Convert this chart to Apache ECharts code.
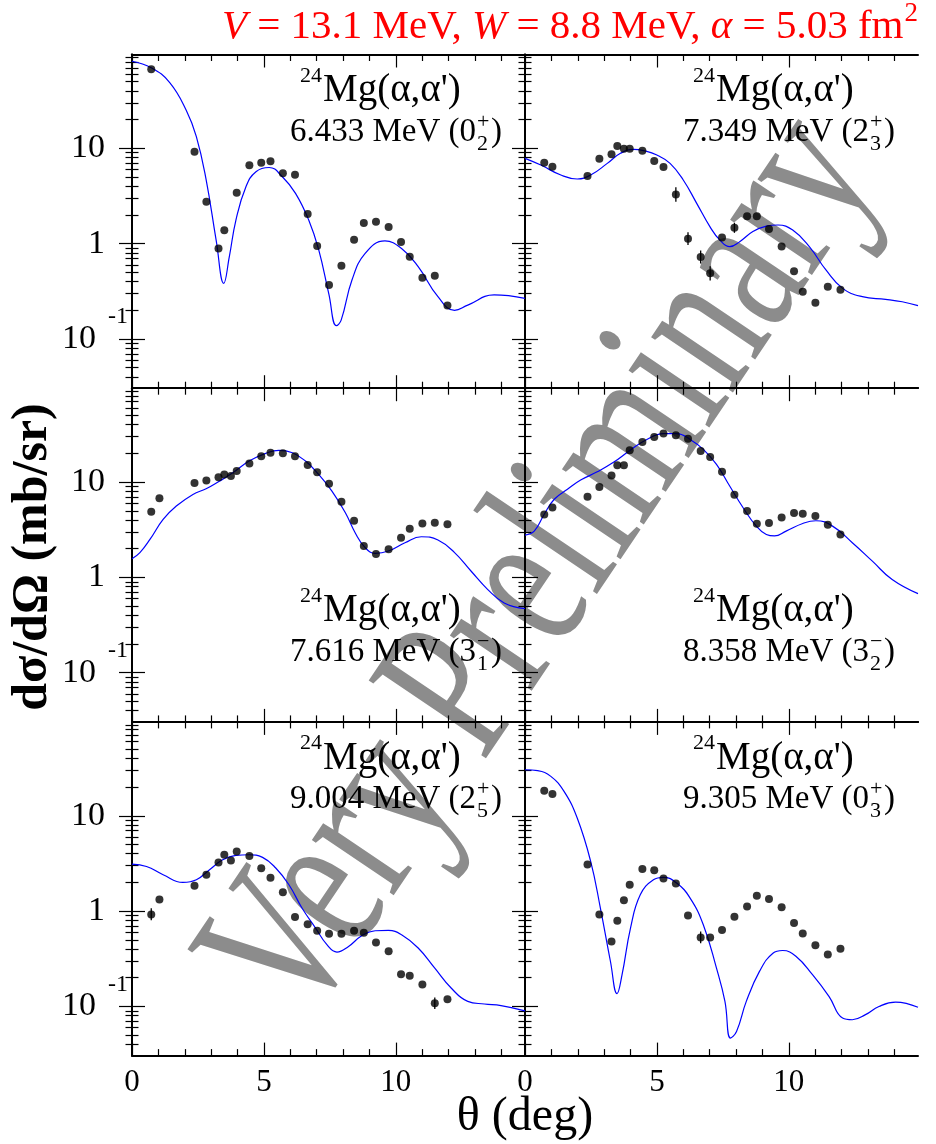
<!DOCTYPE html>
<html><head><meta charset="utf-8">
<script src="https://cdn.jsdelivr.net/npm/echarts@6/dist/echarts.min.js"></script>
<style>html,body{margin:0;padding:0;background:#fff}#c{width:936px;height:1144px}</style>
</head><body><div id="c"></div>
<script>
const FONT = '"Liberation Serif", "Times New Roman", serif';

// ---- measured angles (deg), common to all panels ----
const thetaExp = [0.73, 1.04, 2.37, 2.82, 3.28, 3.50, 3.75, 3.97, 4.45, 4.90, 5.25, 5.72, 6.18, 6.66, 7.02, 7.47, 7.94, 8.42, 8.79, 9.25, 9.73, 10.2, 10.53, 11.01, 11.48, 11.96];

// ---- experimental cross sections (mb/sr) ----
const exp0 = [67.4, null, 9.2, 2.76, 0.89, 1.38, null, 3.43, 6.64, 7.08, 7.31, 5.47, 5.30, 2.05, 0.946, 0.368, 0.587, 1.10, 1.65, 1.70, 1.50, 1.04, 0.73, 0.44, 0.46, 0.225];
const exp1 = [7.08, 6.42, 5.13, 7.80, 8.65, 10.6, 9.93, 9.93, 9.46, 7.36, 6.37, 3.29, 1.13, 0.724, 0.489, 1.16, 1.47, 1.94, 1.94, 1.43, 0.937, 0.513, 0.314, 0.24, 0.354, 0.329];
const exp2 = [4.89, 6.75, 9.76, 10.4, 11.2, 12.0, 11.6, 13.1, 15.7, 18.7, 20.3, 20.0, 18.6, 15.1, 12.7, 9.6, 6.22, 3.93, 2.13, 1.76, 1.97, 2.61, 3.24, 3.68, 3.74, 3.60];
const exp3 = [4.58, 5.42, 7.01, 8.87, 11.7, 15.0, 15.0, 21.5, 26.3, 29.7, 32.4, 30.9, 28.5, 21.2, 18.3, 12.8, 7.36, 4.97, 3.66, 3.72, 4.26, 4.73, 4.66, 4.40, 3.57, 2.81];
const exp4 = [0.923, 1.32, 1.85, 2.41, 3.24, 3.90, 3.40, 4.23, 3.78, 2.81, 2.24, 1.58, 0.865, 0.73, 0.622, 0.578, 0.578, 0.622, 0.593, 0.469, 0.38, 0.217, 0.21, 0.17, 0.108, 0.119];
const exp5 = [18.3, 16.9, 3.09, 0.923, 0.48, 0.792, 1.30, 1.89, 2.76, 2.69, 2.20, 1.95, 0.90, 0.53, 0.53, 0.632, 0.873, 1.12, 1.45, 1.34, 1.10, 0.748, 0.583, 0.437, 0.351, 0.403];

// visible error bars: [theta, low, high]
const err1 = [[5.72, 2.75, 3.9], [6.18, 0.97, 1.32], [6.66, 0.62, 0.85], [7.02, 0.41, 0.58], [7.94, 1.30, 1.66]];
const err4 = [[0.73, 0.80, 1.07], [11.48, 0.094, 0.124]];
const err5 = [[6.66, 0.46, 0.61]];

// ---- calculations (blue curves) ----
const calcX0 = [0, 0.73, 1.43, 2.06, 2.44, 2.81, 3.19, 3.48, 3.69, 3.94, 4.32, 4.70, 5.2, 5.70, 6.2, 6.70, 7.08, 7.46, 7.75, 7.93, 8.34, 8.84, 9.59, 10.22, 10.85, 11.6, 12.23, 12.73, 13.73, 14.9];
const calcY0 = [82, 70, 49, 25, 13.3, 4.7, 1.09, 0.384, 0.73, 1.77, 3.96, 5.69, 6.3, 5.04, 3.37, 1.77, 0.86, 0.30, 0.138, 0.158, 0.416, 0.79, 1.07, 0.89, 0.574, 0.278, 0.20, 0.227, 0.29, 0.267];
const calcX1 = [0, 0.60, 1.36, 1.98, 2.49, 3.12, 3.62, 4.12, 4.50, 5.0, 5.50, 6.0, 6.51, 7.01, 7.39, 7.76, 8.14, 8.64, 9.15, 9.59, 10.15, 10.78, 11.41, 12.04, 12.79, 13.67, 14.30, 14.9];
const calcY1 = [7.85, 6.68, 5.25, 4.77, 5.25, 6.96, 8.87, 9.77, 9.46, 8.52, 6.96, 4.66, 2.65, 1.51, 1.09, 0.93, 1.05, 1.34, 1.53, 1.57, 1.39, 0.93, 0.53, 0.34, 0.278, 0.261, 0.246, 0.224];
const calcX2 = [0, 0.30, 0.68, 1.18, 1.68, 2.31, 2.81, 3.31, 3.82, 4.44, 5.07, 5.57, 6.08, 6.58, 7.08, 7.58, 8.09, 8.46, 8.84, 9.22, 9.72, 10.35, 10.97, 11.6, 12.23, 12.86, 13.48, 14.11, 14.9];
const calcY2 = [1.57, 1.82, 2.5, 4.06, 5.6, 7.42, 8.5, 10.2, 12.5, 16.6, 20, 21.5, 20.3, 16.6, 12.0, 8.05, 4.77, 2.94, 2.05, 1.79, 1.89, 2.31, 2.67, 2.47, 1.82, 1.16, 0.75, 0.54, 0.47];
const calcX3 = [0, 0.35, 0.73, 1.11, 1.61, 2.11, 2.74, 3.37, 4.0, 4.62, 5.25, 5.75, 6.26, 6.76, 7.26, 7.76, 8.27, 8.77, 9.15, 9.46, 9.90, 10.53, 11.03, 11.66, 12.41, 13.17, 13.92, 14.9];
const calcY3 = [2.78, 3.06, 4.6, 6.6, 8.4, 10.5, 12.8, 16.2, 21.7, 28.0, 32.2, 32.2, 28, 22, 15.3, 9.08, 5.38, 3.45, 2.82, 2.72, 3.06, 3.68, 3.93, 3.45, 2.31, 1.48, 0.95, 0.675];
const calcX4 = [0, 0.55, 1.18, 1.93, 2.44, 2.94, 3.44, 3.94, 4.44, 4.95, 5.45, 5.95, 6.45, 6.96, 7.39, 7.77, 8.21, 8.71, 9.22, 9.72, 10.22, 10.85, 11.48, 12.10, 12.73, 13.36, 13.99, 14.9];
const calcY4 = [3.11, 2.94, 2.41, 2.0, 2.13, 2.72, 3.45, 3.84, 3.90, 3.66, 2.83, 1.89, 1.07, 0.664, 0.444, 0.372, 0.426, 0.551, 0.622, 0.627, 0.565, 0.41, 0.252, 0.156, 0.113, 0.106, 0.102, 0.09];
const calcX5 = [0, 0.48, 0.98, 1.48, 1.98, 2.49, 2.86, 3.24, 3.49, 3.68, 4.0, 4.37, 4.87, 5.25, 5.75, 6.26, 6.76, 7.26, 7.58, 7.79, 8.02, 8.39, 8.89, 9.40, 9.77, 10.28, 10.9, 11.53, 12.04, 12.41, 12.91, 13.42, 14.05, 14.9];
const calcY5 = [30.4, 29.7, 25.9, 18.0, 9.46, 3.32, 1.07, 0.296, 0.136, 0.215, 0.664, 1.48, 2.13, 2.26, 1.97, 1.37, 0.72, 0.252, 0.113, 0.0466, 0.0547, 0.113, 0.233, 0.362, 0.386, 0.334, 0.215, 0.127, 0.0755, 0.0725, 0.082, 0.1, 0.111, 0.098];

// ---- ticks ----
const xMajorTicks = [0, 5, 10];
const xMinorTicks = [1, 2, 3, 4, 6, 7, 8, 9, 11, 12, 13, 14];
const yMajorTicks = [0.1, 1, 10];
const yMinorTicks = [0.04, 0.05, 0.06, 0.07, 0.08, 0.09, 0.2, 0.3, 0.4, 0.5, 0.6, 0.7, 0.8, 0.9, 2, 3, 4, 5, 6, 7, 8, 9, 20, 30, 40, 50, 60, 70, 80, 90];

// ---- panel labels ----
const stateEnergy = ['6.433 MeV (0', '7.349 MeV (2', '7.616 MeV (3', '8.358 MeV (3', '9.004 MeV (2', '9.305 MeV (0'];
const stateParity = ['+', '+', '\u2212', '\u2212', '+', '+'];
const stateIndex = ['2', '3', '1', '2', '5', '3'];

const exps = [exp0, exp1, exp2, exp3, exp4, exp5];
const errs = [[], err1, [], [], err4, err5];
const calcXs = [calcX0, calcX1, calcX2, calcX3, calcX4, calcX5];
const calcYs = [calcY0, calcY1, calcY2, calcY3, calcY4, calcY5];

const X_MAX = 14.9, Y_MIN = 0.0305, Y_MAX = 96.5;
const colLeft = [132, 525], colW = 393;
const rowTop = [54.5, 388.2, 721.9], rowH = 333.7;

const chart = echarts.init(document.getElementById('c'), null, {renderer: 'canvas'});
const grids = [], xAxes = [], yAxes = [], series = [], graphics = [];

const ctx = document.createElement('canvas').getContext('2d');
function tw(text, size) { ctx.font = size + 'px "Liberation Serif"'; return ctx.measureText(text).width; }
function txt(x, baseline, text, size, extra) {
  graphics.push({type: 'text', x: x, y: baseline - 0.34 * size, z: 50,
    style: Object.assign({text: text, font: size + 'px ' + FONT, fill: '#000', textAlign: 'left', textVerticalAlign: 'middle'}, extra || {})});
}

const black = '#000';
for (let p = 0; p < 6; p++) {
  const col = p % 2, row = Math.floor(p / 2);
  grids.push({left: colLeft[col], top: rowTop[row], width: colW, height: rowH});
  const xBase = {type: 'value', gridIndex: p, min: 0, max: X_MAX, splitLine: {show: false}};
  xAxes.push(Object.assign({}, xBase, {position: 'bottom',
    axisLine: {show: true, lineStyle: {color: black, width: 2}},
    axisTick: {show: true, inside: true, length: 13, customValues: xMajorTicks, lineStyle: {color: black, width: 1.2}},
    axisLabel: {show: row === 2, customValues: xMajorTicks, margin: 12, color: black, fontFamily: FONT, fontSize: 31, formatter: v => String(v)}}));
  xAxes.push(Object.assign({}, xBase, {position: 'bottom', axisLine: {show: false},
    axisTick: {show: true, inside: true, length: 6.5, customValues: xMinorTicks, lineStyle: {color: black, width: 1.2}},
    axisLabel: {show: false}}));
  xAxes.push(Object.assign({}, xBase, {position: 'top',
    axisLine: {show: true, lineStyle: {color: black, width: 2}},
    axisTick: {show: true, inside: true, length: 13, customValues: xMajorTicks, lineStyle: {color: black, width: 1.2}},
    axisLabel: {show: false}}));
  xAxes.push(Object.assign({}, xBase, {position: 'top', axisLine: {show: false},
    axisTick: {show: true, inside: true, length: 6.5, customValues: xMinorTicks, lineStyle: {color: black, width: 1.2}},
    axisLabel: {show: false}}));

  const yBase = {type: 'log', logBase: 10, gridIndex: p, min: Y_MIN, max: Y_MAX, splitLine: {show: false}, minorTick: {show: false}};
  yAxes.push(Object.assign({}, yBase, {position: 'left',
    axisLine: {show: true, lineStyle: {color: black, width: 2}},
    axisTick: {show: true, inside: true, length: 13, customValues: yMajorTicks, lineStyle: {color: black, width: 1.2}},
    axisLabel: {show: col === 0, customValues: yMajorTicks, margin: 4, color: black, fontFamily: FONT, fontSize: 34,
      formatter: v => (v > 5 ? '{b|10}{g|}' : (v > 0.5 ? '{b|1}{g|}' : '{b|10}{s|-1}')),
      rich: {b: {fontFamily: FONT, fontSize: 34, color: black}, g: {width: 23}, s: {fontFamily: FONT, fontSize: 24, color: black, padding: [0, 0, 44, 12]}}}}));
  yAxes.push(Object.assign({}, yBase, {position: 'left', axisLine: {show: false},
    axisTick: {show: true, inside: true, length: 6.5, customValues: yMinorTicks, lineStyle: {color: black, width: 1.2}},
    axisLabel: {show: false}}));
  yAxes.push(Object.assign({}, yBase, {position: 'right',
    axisLine: {show: true, lineStyle: {color: black, width: 2}},
    axisTick: {show: true, inside: true, length: 13, customValues: yMajorTicks, lineStyle: {color: black, width: 1.2}},
    axisLabel: {show: false}}));
  yAxes.push(Object.assign({}, yBase, {position: 'right', axisLine: {show: false},
    axisTick: {show: true, inside: true, length: 6.5, customValues: yMinorTicks, lineStyle: {color: black, width: 1.2}},
    axisLabel: {show: false}}));

  const xi = 4 * p, yi = 4 * p;
  series.push({type: 'line', xAxisIndex: xi, yAxisIndex: yi, symbol: 'none', smooth: 0.45,
    lineStyle: {color: '#0000ff', width: 1.2}, z: 3, silent: true, animation: false,
    data: calcXs[p].map((x, i) => [x, calcYs[p][i]])});
  series.push({type: 'custom', xAxisIndex: xi, yAxisIndex: yi, z: 4, silent: true, animation: false,
    encode: {x: 0, y: [1, 2]},
    renderItem: (params, api) => {
      const a = api.coord([api.value(0), api.value(1)]), b = api.coord([api.value(0), api.value(2)]);
      return {type: 'line', shape: {x1: a[0], y1: a[1], x2: b[0], y2: b[1]}, style: {stroke: black, lineWidth: 1.3}};
    },
    data: errs[p]});
  series.push({type: 'scatter', xAxisIndex: xi, yAxisIndex: yi, symbol: 'circle', symbolSize: 8, z: 5, silent: true, animation: false,
    itemStyle: {color: black},
    data: thetaExp.map((t, i) => [t, exps[p][i]]).filter(d => d[1] != null)});

  // panel labels
  const left = colLeft[col];
  const b1 = rowTop[row] + (row === 1 ? 236 : 50), b2 = rowTop[row] + (row === 1 ? 275 : 89);
  const mx = left + 191, lx = left + 158;
  txt(mx - 1, b1 - 21, '24', 22, {textAlign: 'right'});
  txt(mx, b1, "Mg(\u03b1,\u03b1')", 39);
  txt(lx, b2, stateEnergy[p], 33);
  const ex = lx + tw(stateEnergy[p], 33) + 1;
  txt(ex, b2 - 14, stateParity[p], 22);
  txt(ex, b2 + 8, stateIndex[p], 22);
  txt(ex + 14, b2, ')', 33);
}

// watermark
graphics.push({type: 'text', x: 545, y: 570, rotation: 56 * Math.PI / 180, scaleX: 0.7, z: -10, silent: true,
  style: {text: 'Very Preliminary', font: '215px ' + FONT, fill: '#8c8c8c', textAlign: 'center', textVerticalAlign: 'middle'}});
// header
graphics.push({type: 'text', x: 918, y: 27, z: 50,
  style: {text: '{i|V}{n| = 13.1 MeV, }{i|W}{n| = 8.8 MeV, }{i|\u03b1}{n| = 5.03 fm}{s|2}', textAlign: 'right', textVerticalAlign: 'middle',
    rich: {i: {font: 'italic 41px ' + FONT, fill: '#ff0000'}, n: {font: '41px ' + FONT, fill: '#ff0000'},
      s: {font: '27px ' + FONT, fill: '#ff0000', padding: [0, 0, 26, 1]}}}});
// axis titles
graphics.push({type: 'text', x: 33, y: 557, rotation: Math.PI / 2, z: 50,
  style: {text: 'd\u03c3/d\u03a9 (mb/sr)', font: 'bold 50px ' + FONT, fill: '#000', textAlign: 'center', textVerticalAlign: 'middle'}});
graphics.push({type: 'text', x: 525, y: 1117, z: 50,
  style: {text: '\u03b8 (deg)', font: '48px ' + FONT, fill: '#000', textAlign: 'center', textVerticalAlign: 'middle'}});

chart.setOption({animation: false, backgroundColor: '#fff', grid: grids, xAxis: xAxes, yAxis: yAxes, series: series, graphic: graphics});
</script></body></html>
